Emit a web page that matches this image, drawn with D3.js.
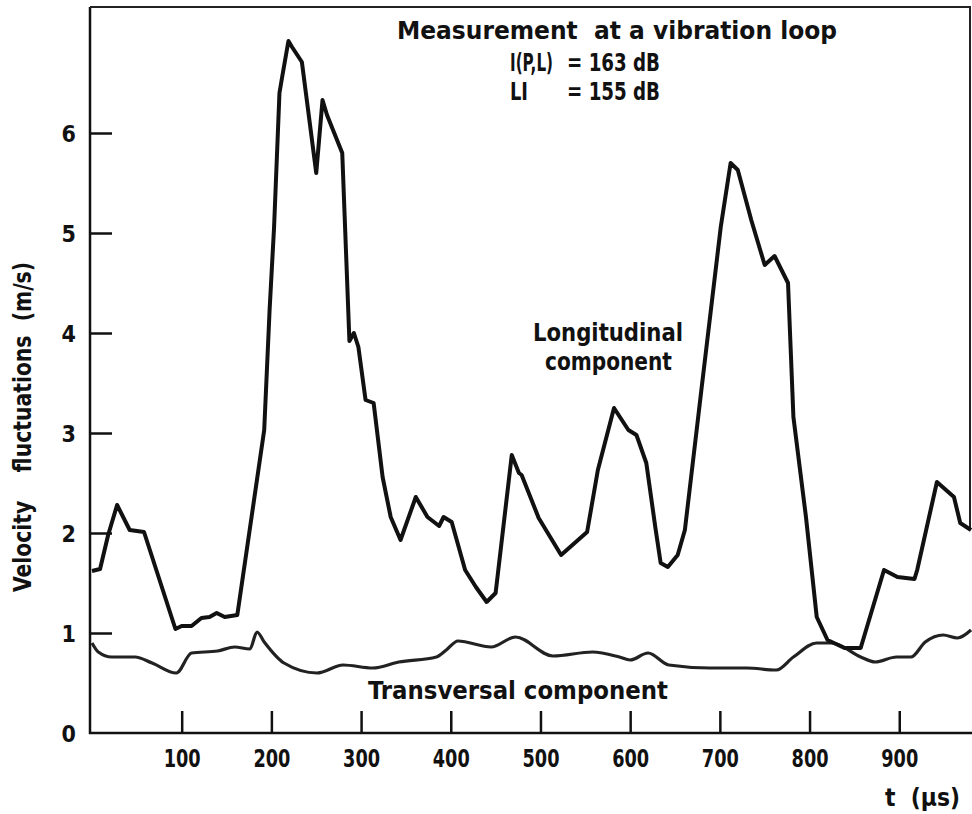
<!DOCTYPE html>
<html>
<head>
<meta charset="utf-8">
<script src="https://cdn.jsdelivr.net/npm/d3@7"></script>
<style>
body { margin: 0; background: #fff; }
text { font-family: "Liberation Sans Narrow", "DejaVu Sans Condensed", sans-serif; font-weight: bold; fill: #111; }
</style>
</head>
<body>
<div id="chart"></div>
<script>
// longitudinal component, time (µs) and velocity (m/s)
var longTime = [0, 9, 18, 28, 42, 58, 93, 100, 111, 122, 131, 139, 148, 162, 192, 198, 203, 209, 212, 219, 223, 234,
  250, 257, 262, 279, 287, 292, 297, 305, 314, 324, 333, 344, 361, 374, 387, 392, 401, 416, 428, 440, 450,
  468, 476, 479, 498, 523, 552, 564, 582, 598, 607, 618, 628, 634, 642, 653, 661, 679, 701, 712, 720, 735,
  750, 761, 776, 779, 782, 796, 808, 820, 839, 857, 883, 898, 917, 920, 942, 961, 968, 980];
var longVel = [1.62, 1.64, 1.98, 2.28, 2.03, 2.01, 1.04, 1.07, 1.07, 1.15, 1.16, 1.20, 1.16, 1.18, 3.03, 4.23, 5.06, 6.40, 6.56, 6.92, 6.86, 6.71,
  5.60, 6.33, 6.18, 5.80, 3.92, 4.00, 3.86, 3.33, 3.30, 2.56, 2.16, 1.93, 2.36, 2.16, 2.07, 2.16, 2.11, 1.63, 1.46, 1.31, 1.40,
  2.78, 2.60, 2.58, 2.15, 1.78, 2.01, 2.63, 3.25, 3.03, 2.98, 2.70, 2.06, 1.70, 1.66, 1.78, 2.03, 3.40, 5.06, 5.70, 5.63, 5.13,
  4.68, 4.77, 4.50, 3.83, 3.16, 2.16, 1.16, 0.93, 0.85, 0.85, 1.63, 1.56, 1.54, 1.63, 2.51, 2.36, 2.10, 2.03];

// transversal component
var transTime = [0, 7, 22, 48, 67, 94, 111, 140, 159, 176, 184, 192, 214, 251, 280, 313, 342, 384, 395, 408, 445, 472,
  514, 558, 588, 600, 620, 643, 689, 730, 763, 782, 808, 825, 857, 873, 897, 913, 929, 949, 965, 980];
var transVel = [0.90, 0.81, 0.76, 0.76, 0.70, 0.60, 0.80, 0.82, 0.86, 0.84, 1.01, 0.91, 0.70, 0.60, 0.68, 0.65, 0.71, 0.76, 0.83, 0.92, 0.86, 0.96,
  0.77, 0.81, 0.76, 0.73, 0.80, 0.68, 0.65, 0.65, 0.63, 0.76, 0.90, 0.90, 0.76, 0.71, 0.76, 0.76, 0.91, 0.98, 0.95, 1.03];

var xTicks = [100, 200, 300, 400, 500, 600, 700, 800, 900];
var yTicks = [1, 2, 3, 4, 5, 6];
var yLabels = [0, 1, 2, 3, 4, 5, 6];

var svgWidth = 972;
var svgHeight = 814;

var svg = d3.select("#chart")
  .append("svg")
  .attr("width", svgWidth)
  .attr("height", svgHeight);

// scales
var x = d3.scaleLinear().domain([0, 980]).range([92, 971]);
var y = d3.scaleLinear().domain([0, 6]).range([733, 133]);

var axisX = 90;
var axisY = y(0);
var topY = 7;

// x axis: ticks pointing up into the plot
var xAxis = svg.append("g")
  .attr("transform", `translate(0, ${axisY})`)
  .call(d3.axisBottom(x).tickValues(xTicks).tickSize(-22).tickSizeOuter(0).tickPadding(16).tickFormat(d3.format("d")));

// y axis ticks pointing right, labels on the left
var yAxisTicks = svg.append("g")
  .attr("transform", `translate(${axisX}, 0)`)
  .call(d3.axisRight(y).tickValues(yTicks).tickSize(22).tickSizeOuter(0).tickFormat(""));

var yAxisLabels = svg.append("g")
  .attr("transform", `translate(${axisX}, 0)`)
  .call(d3.axisLeft(y).tickValues(yLabels).tickSize(0).tickPadding(14).tickFormat(d3.format("d")));

svg.selectAll(".domain").remove();
svg.selectAll(".tick line").attr("stroke", "#111").attr("stroke-width", 2.5);
xAxis.selectAll("text")
  .style("font-size", "25px")
  .attr("textLength", 37)
  .attr("lengthAdjust", "spacingAndGlyphs");
yAxisLabels.selectAll("text").style("font-size", "23px").attr("dy", "0.36em");

// frame
svg.append("path")
  .attr("d", `M${axisX},${topY}V${axisY}H${svgWidth}`)
  .attr("fill", "none").attr("stroke", "#111").attr("stroke-width", 2.5);
svg.append("path")
  .attr("d", `M${axisX},${topY}H970V530`)
  .attr("fill", "none").attr("stroke", "#222").attr("stroke-width", 2);

// curves
var longData = longTime.map((t, i) => ({ t: t, v: longVel[i] }));
var transData = transTime.map((t, i) => ({ t: t, v: transVel[i] }));

var lineLong = d3.line().x(d => x(d.t)).y(d => y(d.v)).curve(d3.curveLinear);
var lineTrans = d3.line().x(d => x(d.t)).y(d => y(d.v)).curve(d3.curveMonotoneX);

svg.append("path")
  .datum(transData)
  .attr("d", lineTrans)
  .attr("fill", "none").attr("stroke", "#222").attr("stroke-width", 3.2)
  .attr("stroke-linejoin", "round");

svg.append("path")
  .datum(longData)
  .attr("d", lineLong)
  .attr("fill", "none").attr("stroke", "#111").attr("stroke-width", 4)
  .attr("stroke-linejoin", "round");

// annotations
function label(txt, px, py, size, len) {
  var t = svg.append("text")
    .attr("x", px).attr("y", py)
    .style("font-size", size + "px")
    .style("white-space", "pre")
    .text(txt);
  if (len) t.attr("textLength", len).attr("lengthAdjust", "spacingAndGlyphs");
  return t;
}

label("Measurement  at a vibration loop", 397, 39, 24, 440);
label("I(P,L)", 510, 71, 24, 43);
label("= 163 dB", 567, 71, 24, 93);
label("LI", 510, 100, 24, 18);
label("= 155 dB", 567, 100, 24, 93);
label("Longitudinal", 533, 341, 24, 150);
label("component", 545, 370, 24, 127);
label("Transversal component", 368, 699, 24, 300);
label("t  (µs)", 885, 806, 24, 75);

// y axis title
svg.append("text")
  .attr("transform", "translate(31, 427) rotate(-90)")
  .attr("text-anchor", "middle")
  .style("font-size", "24px")
  .style("white-space", "pre")
  .attr("textLength", 330)
  .attr("lengthAdjust", "spacingAndGlyphs")
  .text("Velocity    fluctuations  (m/s)");
</script>
</body>
</html>
